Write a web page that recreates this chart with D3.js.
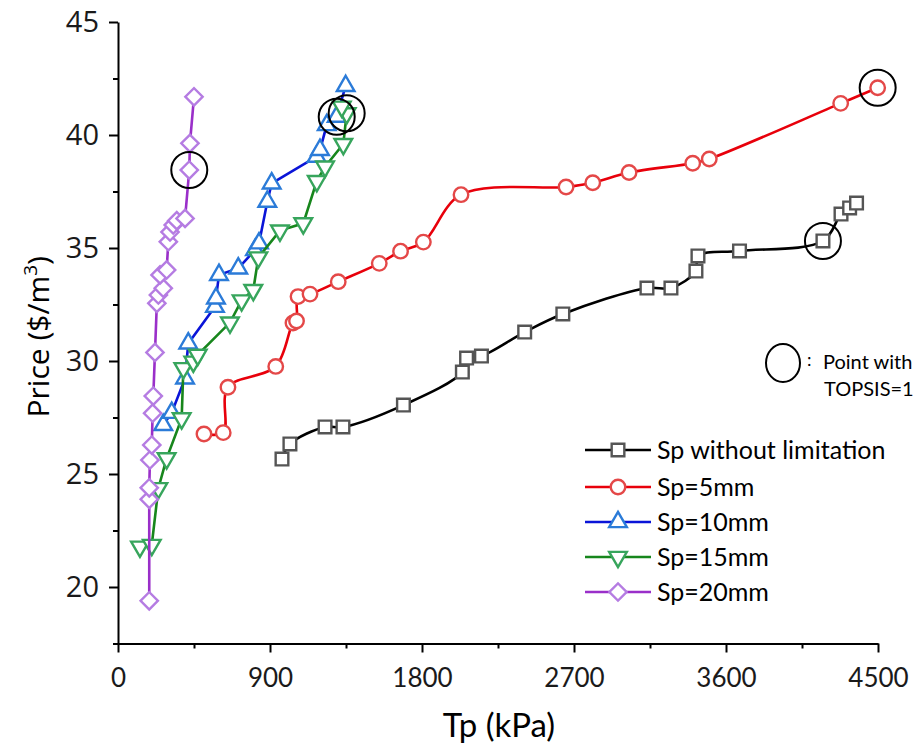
<!DOCTYPE html>
<html>
<head>
<meta charset="utf-8">
<script src="https://cdn.jsdelivr.net/npm/d3@7"></script>
<style>
  html, body { margin: 0; padding: 0; background: #fff; }
  svg { display: block; }
</style>
</head>
<body>
<svg id="chart" width="921" height="748"></svg>
<script>
// ---------- data ----------
const xTicks = [0, 900, 1800, 2700, 3600, 4500];
const xMinorTicks = [450, 1350, 2250, 3150, 4050];
const yTicks = [20, 25, 30, 35, 40, 45];
const yMinorTicks = [17.5, 22.5, 27.5, 32.5, 37.5, 42.5];

const seriesNames = ["Sp without limitation", "Sp=5mm", "Sp=10mm", "Sp=15mm", "Sp=20mm"];

// [Tp (kPa), Price ($/m3)]
const spNoLimit = [
  [971, 25.66], [1018, 26.33], [1226, 27.08], [1332, 27.08], [1690, 28.05],
  [2039, 29.51], [2064, 30.13], [2152, 30.22], [2408, 31.28], [2634, 32.08],
  [3132, 33.23], [3274, 33.23], [3422, 33.98], [3434, 34.65], [3680, 34.87],
  [4174, 35.31], [4281, 36.50], [4332, 36.77], [4373, 36.99]
];
const sp5 = [
  [509, 26.77], [623, 26.83], [651, 28.84], [934, 29.76], [1036, 31.68],
  [1057, 31.77], [1066, 32.85], [1137, 32.96], [1304, 33.51], [1547, 34.32],
  [1673, 34.86], [1808, 35.26], [2031, 37.36], [2653, 37.70], [2811, 37.89],
  [3026, 38.34], [3403, 38.75], [3501, 38.94], [4279, 41.40], [4498, 42.09]
];
const sp10 = [
  [268, 27.17], [318, 27.71], [397, 29.23], [416, 30.78], [574, 32.40],
  [580, 32.77], [598, 33.81], [712, 34.10], [811, 34.91], [835, 35.21],
  [884, 37.05], [910, 37.86], [1176, 39.04], [1196, 39.34], [1236, 40.44],
  [1295, 40.81], [1348, 42.17]
];
const sp15 = [
  [130, 21.78], [200, 21.86], [239, 24.37], [288, 25.69], [377, 27.46],
  [387, 29.68], [446, 29.97], [472, 30.27], [663, 31.70], [732, 32.68],
  [801, 33.14], [831, 34.58], [959, 35.77], [1097, 36.09], [1177, 37.96],
  [1226, 38.60], [1334, 39.60], [1354, 40.96], [1325, 41.25]
];
const sp20 = [
  [185, 19.39], [185, 23.88], [185, 24.39], [189, 25.62], [200, 26.28],
  [205, 27.69], [209, 28.45], [219, 30.38], [230, 32.55], [239, 32.92],
  [268, 33.22], [249, 33.81], [288, 34.03], [298, 35.28], [308, 35.71],
  [327, 36.02], [348, 36.21], [397, 36.31], [422, 38.45], [426, 39.63],
  [450, 41.69]
];

// points with TOPSIS = 1
const topsisPoints = [
  [4174, 35.31], [4498, 42.09], [1295, 40.81], [1354, 40.96], [422, 38.45]
];

// ---------- style ----------
const lineColors   = ["#000000", "#e8000b", "#0a14d8", "#17861c", "#9a2fc9"];
const markerColors = ["#555555", "#e44848", "#2b7bd8", "#37a55c", "#b57ce2"];
const markerTypes  = ["square", "circle", "triUp", "triDown", "diamond"];
const curved       = [true, true, false, false, false];
const allSeries = [spNoLimit, sp5, sp10, sp15, sp20];

const svg = d3.select("#chart");

const x = d3.scaleLinear().domain([0, 4500]).range([118, 878]);
const y = d3.scaleLinear().domain([17.5, 45]).range([643.5, 22]);

function symbolPath(type) {
  switch (type) {
    case "square":  return d3.symbol().type(d3.symbolSquare).size(160)();
    case "circle":  return d3.symbol().type(d3.symbolCircle).size(165)();
    case "triUp":   return d3.symbol().type(d3.symbolTriangle).size(135)();
    case "triDown": return d3.symbol().type(d3.symbolTriangle).size(135)();
    case "diamond": return d3.symbol().type(d3.symbolSquare).size(150)();
  }
}
function symbolRotate(type) {
  if (type === "triDown") return 180;
  if (type === "diamond") return 45;
  return 0;
}

// ---------- axes ----------
const axisG = svg.append("g");

const yAxis = axisG.append("g")
  .attr("transform", `translate(${x(0)},0)`)
  .call(d3.axisLeft(y).tickValues(yTicks).tickSize(9).tickSizeOuter(0).tickPadding(10)
        .tickFormat(d3.format("d")));
yAxis.selectAll("text")
  .attr("font-family", "'Open Sans', sans-serif")
  .attr("font-size", 29)
  .attr("fill", "#1a1a1a");
const yMinor = axisG.append("g")
  .attr("transform", `translate(${x(0)},0)`)
  .call(d3.axisLeft(y).tickValues(yMinorTicks).tickSize(5).tickSizeOuter(0).tickFormat(""));
yMinor.select(".domain").remove();

const xAxis = axisG.append("g")
  .attr("transform", `translate(0,${y(17.5)})`)
  .call(d3.axisBottom(x).tickValues(xTicks).tickSize(9).tickSizeOuter(0).tickPadding(16)
        .tickFormat(d3.format("d")));
xAxis.selectAll("text")
  .attr("font-family", "Lato, sans-serif")
  .attr("font-size", 26)
  .attr("fill", "#1a1a1a");
const xMinor = axisG.append("g")
  .attr("transform", `translate(0,${y(17.5)})`)
  .call(d3.axisBottom(x).tickValues(xMinorTicks).tickSize(5).tickSizeOuter(0).tickFormat(""));
xMinor.select(".domain").remove();

axisG.selectAll(".domain").attr("stroke", "#000").attr("stroke-width", 2);
axisG.selectAll(".tick line").attr("stroke", "#000").attr("stroke-width", 2);

// axis titles
svg.append("text")
  .attr("x", (x(0) + x(4500)) / 2 + 1)
  .attr("y", 737)
  .attr("text-anchor", "middle")
  .attr("font-family", "Lato, sans-serif")
  .attr("font-size", 33)
  .attr("fill", "#000")
  .text("Tp (kPa)");

const yTitle = svg.append("text")
  .attr("transform", `translate(49,${(y(17.5) + y(45)) / 2 + 4}) rotate(-90)`)
  .attr("text-anchor", "middle")
  .attr("font-family", "'Open Sans', sans-serif")
  .attr("font-size", 30)
  .attr("fill", "#000");
yTitle.append("tspan").text("Price ($/m");
yTitle.append("tspan").attr("dy", -12).attr("font-size", 19).text("3");
yTitle.append("tspan").attr("dy", 12).text(")");

// ---------- series ----------
allSeries.forEach((data, i) => {
  const line = d3.line()
    .x(d => x(d[0])).y(d => y(d[1]))
    .curve(curved[i] ? d3.curveCatmullRom.alpha(0.5) : d3.curveLinear);
  const g = svg.append("g");
  g.append("path")
    .datum(data)
    .attr("d", line)
    .attr("fill", "none")
    .attr("stroke", lineColors[i])
    .attr("stroke-width", 2.6);
  g.selectAll("path.m")
    .data(data)
    .join("path")
    .attr("class", "m")
    .attr("d", symbolPath(markerTypes[i]))
    .attr("transform", d => `translate(${x(d[0])},${y(d[1])}) rotate(${symbolRotate(markerTypes[i])})`)
    .attr("fill", "#fff")
    .attr("stroke", markerColors[i])
    .attr("stroke-width", 2.4);
});

// TOPSIS circles
svg.append("g").selectAll("circle")
  .data(topsisPoints)
  .join("circle")
  .attr("cx", d => x(d[0]))
  .attr("cy", d => y(d[1]))
  .attr("r", 18)
  .attr("fill", "none")
  .attr("stroke", "#000")
  .attr("stroke-width", 2);

// ---------- legend ----------
const lg = svg.append("g");
lg.append("ellipse")
  .attr("cx", 783).attr("cy", 363).attr("rx", 17).attr("ry", 19)
  .attr("fill", "none").attr("stroke", "#000").attr("stroke-width", 2);
lg.append("text")
  .attr("x", 807).attr("y", 366)
  .attr("font-family", "Lato, sans-serif").attr("font-size", 18).attr("fill", "#000")
  .text(":");
lg.append("text")
  .attr("x", 823).attr("y", 369)
  .attr("font-family", "Lato, sans-serif").attr("font-size", 20).attr("fill", "#000")
  .text("Point with");
lg.append("text")
  .attr("x", 824).attr("y", 396)
  .attr("font-family", "Lato, sans-serif").attr("font-size", 20).attr("fill", "#000")
  .text("TOPSIS=1");

const legendY = [450, 487, 522, 557, 592];
seriesNames.forEach((name, i) => {
  const row = lg.append("g").attr("transform", `translate(0,${legendY[i]})`);
  row.append("line")
    .attr("x1", 585).attr("x2", 651).attr("y1", 0).attr("y2", 0)
    .attr("stroke", lineColors[i]).attr("stroke-width", 2.6);
  row.append("path")
    .attr("d", symbolPath(markerTypes[i]))
    .attr("transform", `translate(618,0) rotate(${symbolRotate(markerTypes[i])})`)
    .attr("fill", "#fff")
    .attr("stroke", markerColors[i])
    .attr("stroke-width", 2.4);
  row.append("text")
    .attr("x", 657).attr("y", 9)
    .attr("font-family", "Lato, sans-serif").attr("font-size", 25).attr("fill", "#000")
    .text(name);
});
</script>
</body>
</html>
